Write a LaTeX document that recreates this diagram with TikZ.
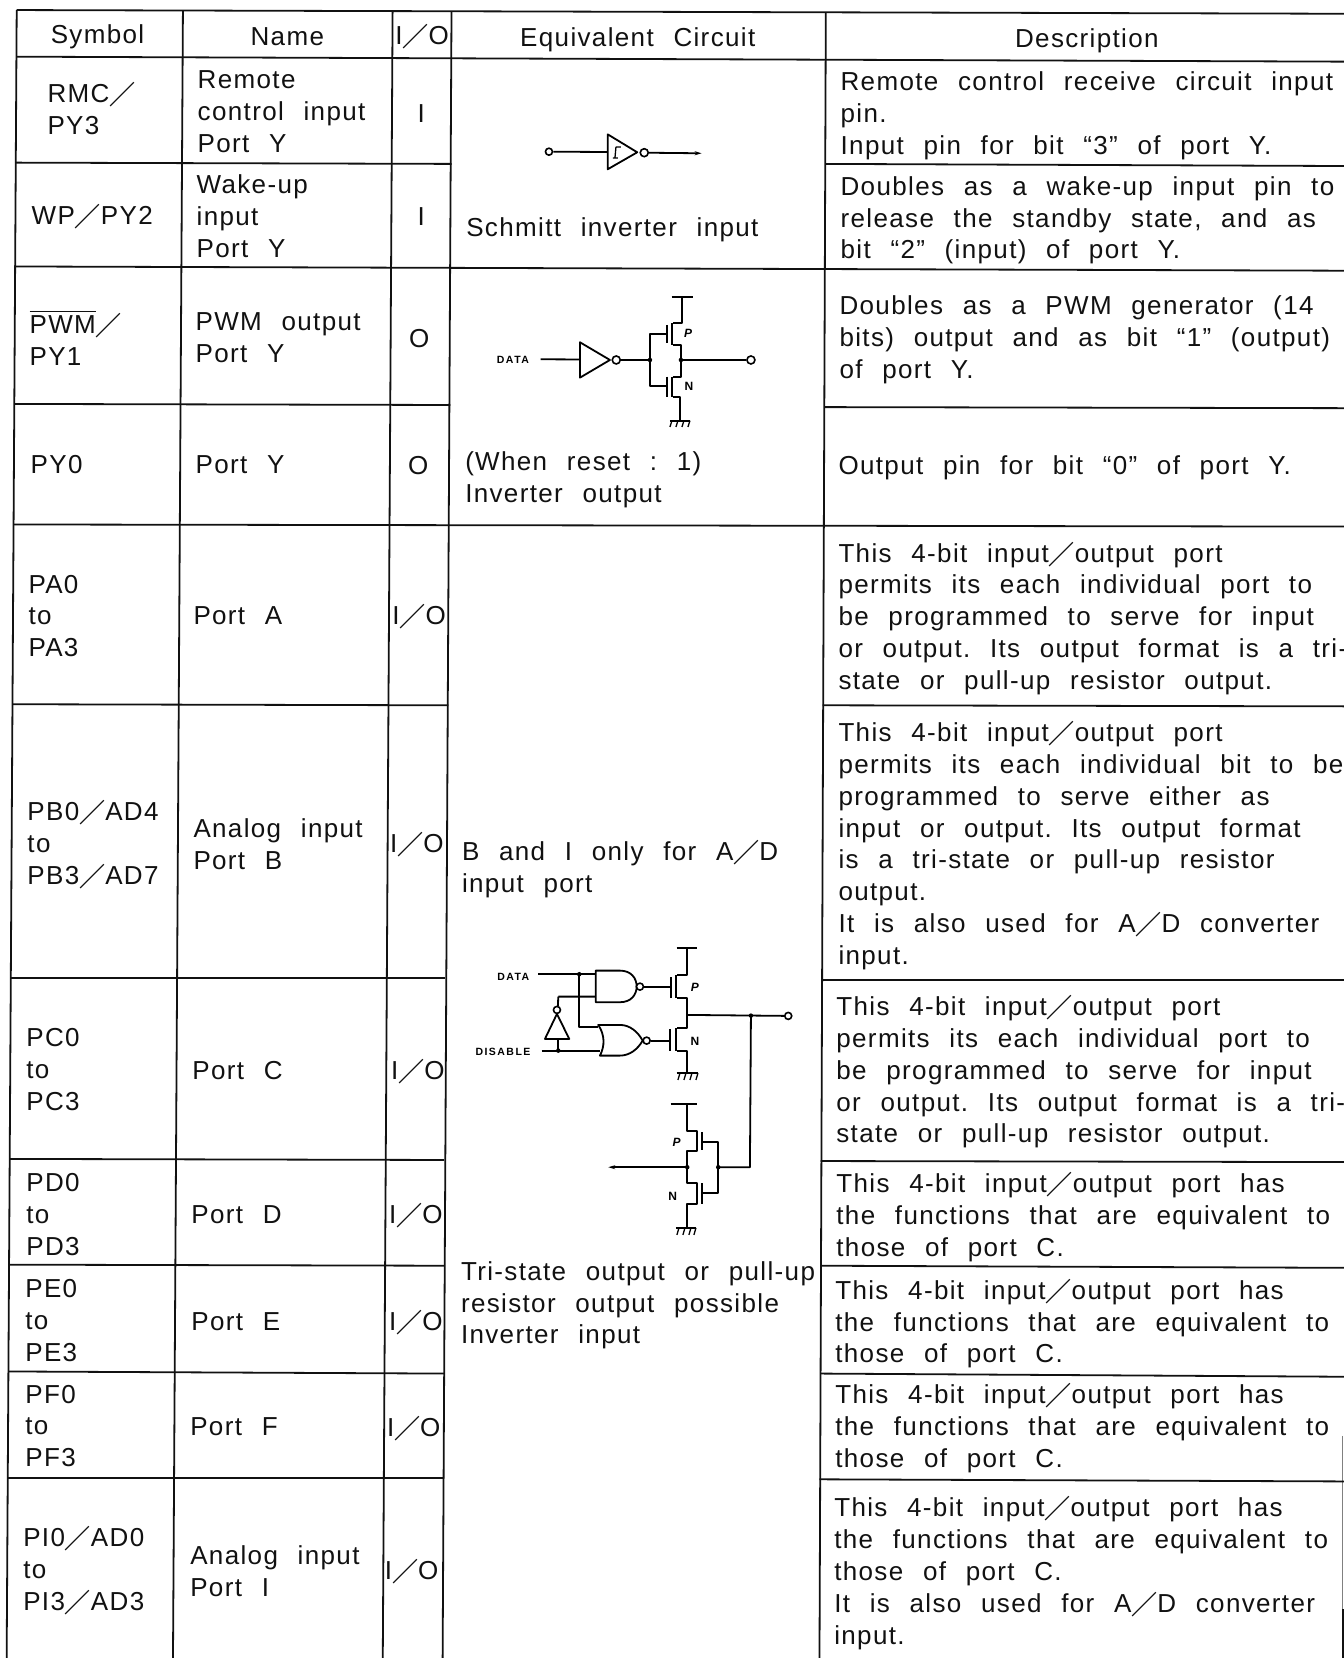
\documentclass[tikz,border=0pt]{standalone}
\usepackage{fontspec}
\setmainfont[WordSpace=2.3,LetterSpace=5.2]{Liberation Sans}
\newfontfamily\smalllab[LetterSpace=14]{Liberation Sans}
\newfontfamily\cjk{Noto Sans CJK SC}
\usetikzlibrary{arrows.meta}
\newcommand{\sla}{\smash{\raisebox{-2pt}{\scalebox{1.0}[1.0]{\cjk\bfseries ／}}}}
\definecolor{ink}{HTML}{111111}
\tikzset{
  rule/.style={draw=ink,line width=1.8pt},
  wire/.style={draw=black,line width=1.8pt,line join=round},
  thin wire/.style={draw=black,line width=1.3pt},
  cell/.style={anchor=west,inner sep=0pt,outer sep=0pt,align=left,text=ink,yshift=-1.5pt,font=\fontsize{26}{31.8}\selectfont\frenchspacing,
    execute at begin node={\rule[-2pt]{0pt}{20pt}},execute at end node={\rule[-2pt]{0pt}{20pt}}},
  tag/.style={inner sep=0pt,text=black,font=\smalllab\bfseries\fontsize{10.5}{12}\selectfont},
  pin/.style={draw=black,line width=1.6pt,fill=white,circle,inner sep=0pt,minimum size=8pt},
  dot/.style={fill=black,circle,inner sep=0pt,minimum size=4.5pt}
}
\begin{document}
\begin{tikzpicture}[x=1.0575pt,y=-1.0575pt]
\useasboundingbox (0,0) rectangle (1271,1568);
% table rules
\draw[rule] (15.8,9.5)--(1271,13);
\draw[rule] (15.8,53.6)--(1271,58.3);
\draw[rule] (15.8,9.5)--(6.3,1568);
\draw[rule] (173,10)--(163.6,1568);
\draw[rule] (371.3,10)--(362,1568);
\draw[rule] (427,11)--(418.6,1568);
\draw[rule] (781,12)--(775,1568);
\draw[draw=gray,line width=1pt] (1270,1358)--(1270,1522);
\draw[rule] (1270,1522)--(1270,1568);
\draw[rule] (15,153.8)--(427,155);
\draw[rule] (781,155)--(1271,157);
\draw[rule] (15,252)--(1271,256);
\draw[rule] (13.5,382)--(426,383);
\draw[rule] (780,385)--(1271,386);
\draw[rule] (13,496)--(1271,498);
\draw[rule] (11.5,666)--(424,667);
\draw[rule] (778,667)--(1271,668);
\draw[rule] (10,925)--(421,925);
\draw[rule] (777,927)--(1271,927);
\draw[rule] (9,1096)--(420,1097);
\draw[rule] (776,1098)--(1271,1099);
\draw[rule] (9,1196)--(420,1197);
\draw[rule] (776,1197)--(1271,1199);
\draw[rule] (8,1297)--(420,1299);
\draw[rule] (776,1299)--(1271,1302);
\draw[rule] (7.5,1398)--(419,1398);
\draw[rule] (775,1399)--(1271,1401);
% header
\node[cell] (h1) at (48,33) {Symbol};
\node[cell] (h2) at (237,34) {Name};
\node[cell] (h3) at (374,33) {I\sla O};
\node[cell] (h4) at (492,36) {Equivalent Circuit};
\node[cell] (h5) at (960,37) {Description};
% symbol
\node[cell] (s1) at (45,103) {RMC\sla\\PY3};
\node[cell] (s2) at (30,203) {WP\sla PY2};
\node[cell] (s3) at (28,319) {$\overline{\hbox{\rule{0pt}{21pt}PWM}}$\sla\\PY1};
\node[cell] (s4) at (29,439) {PY0};
\node[cell] (s5) at (27,582) {PA0\\to\\PA3};
\node[cell] (s6) at (26,797) {PB0\sla AD4\\to\\PB3\sla AD7};
\node[cell] (s7) at (25,1011) {PC0\\to\\PC3};
\node[cell] (s8) at (25,1148) {PD0\\to\\PD3};
\node[cell] (s9) at (24,1248) {PE0\\to\\PE3};
\node[cell] (s10) at (24,1348) {PF0\\to\\PF3};
\node[cell] (s11) at (22,1484) {PI0\sla AD0\\to\\PI3\sla AD3};
% name
\node[cell] (n1) at (187,105) {Remote\\control input\\Port Y};
\node[cell] (n2) at (186,204) {Wake-up\\input\\Port Y};
\node[cell] (n3) at (185,319) {PWM output\\Port Y};
\node[cell] (n4) at (185,439) {Port Y};
\node[cell] (n5) at (183,582) {Port A};
\node[cell] (n6) at (183,798) {Analog input\\Port B};
\node[cell] (n7) at (182,1012) {Port C};
\node[cell] (n8) at (181,1148) {Port D};
\node[cell] (n9) at (181,1249) {Port E};
\node[cell] (n10) at (180,1349) {Port F};
\node[cell] (n11) at (180,1485) {Analog input\\Port I};
% io
\node[cell] (i1) at (395,107) {I};
\node[cell] (i2) at (395,204) {I};
\node[cell] (i3) at (387,320) {O};
\node[cell] (i4) at (386,440) {O};
\node[cell] (i5) at (371,582) {I\sla O};
\node[cell] (i6) at (369,797) {I\sla O};
\node[cell] (i7) at (370,1012) {I\sla O};
\node[cell] (i8) at (368,1148) {I\sla O};
\node[cell] (i9) at (368,1249) {I\sla O};
\node[cell] (i10) at (366,1349) {I\sla O};
\node[cell] (i11) at (364,1485) {I\sla O};
% equivalent
\node[cell] (e1) at (441,216) {Schmitt inverter input};
\node[cell] (e2) at (440,452) {(When reset : 1)\\Inverter output};
\node[cell] (e3) at (437,821) {B and I only for A\sla D\\input port};
\node[cell] (e4) at (436,1233) {Tri-state output or pull-up\\resistor output possible\\Inverter input};
% description
\node[cell] (d1) at (795,108) {Remote control receive circuit input\\pin.\\Input pin for bit ``3'' of port Y.};
\node[cell] (d2) at (795,207) {Doubles as a wake-up input pin to\\release the standby state, and as\\bit ``2'' (input) of port Y.};
\node[cell] (d3) at (794,320) {Doubles as a PWM generator (14\\bits) output and as bit ``1'' (output)\\of port Y.};
\node[cell] (d4) at (793,441) {Output pin for bit ``0'' of port Y.};
\node[cell] (d5) at (793,584) {This 4-bit input\sla output port\\permits its each individual port to\\be programmed to serve for input\\or output. Its output format is a tri-\\state or pull-up resistor output.};
\node[cell] (d6) at (793,799) {This 4-bit input\sla output port\\permits its each individual bit to be\\programmed to serve either as\\input or output. Its output format\\is a tri-state or pull-up resistor\\output.\\It is also used for A\sla D converter\\input.};
\node[cell] (d7) at (791,1013) {This 4-bit input\sla output port\\permits its each individual port to\\be programmed to serve for input\\or output. Its output format is a tri-\\state or pull-up resistor output.};
\node[cell] (d8) at (791,1150) {This 4-bit input\sla output port has\\the functions that are equivalent to\\those of port C.};
\node[cell] (d9) at (790,1251) {This 4-bit input\sla output port has\\the functions that are equivalent to\\those of port C.};
\node[cell] (d10) at (790,1350) {This 4-bit input\sla output port has\\the functions that are equivalent to\\those of port C.};
\node[cell] (d11) at (789,1487) {This 4-bit input\sla output port has\\the functions that are equivalent to\\those of port C.\\It is also used for A\sla D converter\\input.};
% circuits, in full-size pixel coordinates
\begin{scope}[x=1pt,y=-1pt]
% Schmitt inverter
\node[pin,minimum size=7pt] (a1) at (549,151.7) {};
\node[pin,minimum size=8pt] (a2) at (644.3,152.7) {};
\coordinate (a3) at (701.7,153.3);
\draw[wire] (607.7,134.3)--(637.3,152.3)--(607.7,169.3)--cycle;
\draw[wire] (a1)--(607.7,152);
\draw[wire,-{Stealth[length=7pt,width=4pt]}] (a2)--(a3);
\draw[thin wire] (613,158)--(618,158) (615,158)--(616,147) (616,147)--(621,147);
% PWM inverter output
\node[tag] (b0) at (513,360) {DATA};
\coordinate (b1) at (540.7,359.3);
\node[pin] (b2) at (616.3,360) {};
\node[pin] (b3) at (751,360) {};
\draw[wire] (b1)--(580,359.5);
\draw[wire] (580,342.3)--(610,360)--(580,377.7)--cycle;
\draw[wire] (b2)--(650,360);
\draw[wire] (666.7,334.3)--(650,334.3)--(650,386)--(666.7,386);
\draw[wire] (666.7,325)--(666.7,343.3) (666.7,376.7)--(666.7,396.7);
\draw[wire] (671.7,323.3)--(671.7,345) (671.7,376.7)--(671.7,396.7);
\draw[wire] (671.7,296.7)--(693.3,296.7) (681.7,296.7)--(681.7,323.3)--(673,323.3);
\draw[wire] (673,345)--(681,345)--(681,376.7)--(673,376.7);
\draw[wire] (673,396.7)--(680,396.7)--(680,420);
\draw[wire] (670,420.7)--(690,420.7);
\draw[thin wire] (672,420.7)--(670,427) (678,420.7)--(676,427) (684,420.7)--(682,427) (690,420.7)--(688,427);
\draw[wire] (681,360)--(b3);
\node[dot] (b4) at (650,360) {};
\node[dot] (b5) at (681,360) {};
\node[tag,font=\bfseries\itshape\fontsize{12}{12}\selectfont] (b6) at (688.3,333) {P};
\node[tag,font=\bfseries\fontsize{12}{12}\selectfont] (b7) at (689,386.7) {N};
% tri-state output
\node[tag] (c0) at (513.3,976.7) {DATA};
\node[tag] (c00) at (503,1051.7) {DISABLE};
\coordinate (c1) at (538.3,974.3);
\coordinate (c2) at (541.7,1050.7);
\draw[wire] (c1)--(595.7,974.3);
\draw[wire] (579.3,974.3)--(579.3,1027.3)--(598.3,1027.3);
\draw[wire] (c2)--(600,1050.7);
\draw[wire] (595.7,970.7)--(620,970.7) .. controls (631,970.7) and (636.7,978) .. (636.7,986.7) .. controls (636.7,995) and (631,1002.3) .. (620,1002.3)--(595.7,1002.3)--cycle;
\node[pin,minimum size=7pt] (c3) at (640,986.7) {};
\draw[wire] (c3)--(670.7,986.7);
\draw[wire] (598.3,1025)--(620,1025) .. controls (630,1025) and (638,1032) .. (642.7,1040.7) .. controls (638,1049) and (630,1055.7) .. (620,1055.7)--(600,1055.7) .. controls (605,1046) and (605,1035) .. (598.3,1025)--cycle;
\node[pin,minimum size=7pt] (c4) at (646.7,1040.7) {};
\draw[wire] (c4)--(670,1040.7);
\draw[wire] (558.3,996.7)--(595.7,996.7) (558.3,996.7)--(558,1006);
\node[pin,minimum size=7pt] (c5) at (557,1010) {};
\draw[wire] (557,1014)--(545,1039)--(569.3,1039)--cycle;
\draw[wire] (558.3,1039)--(558.3,1051);
\draw[wire] (670.7,977.3)--(670.7,998.3) (670,1029.3)--(670,1050.7);
\draw[wire] (676,975)--(676,998.3) (676,1028.3)--(676,1050.7);
\draw[wire] (676.7,948.3)--(697.3,948.3) (687.3,948.3)--(687.3,975)--(676.7,975);
\draw[wire] (676.7,998.3)--(687.3,998.3)--(687.3,1028.3)--(676.7,1028.3);
\draw[wire] (676.7,1050.7)--(687.3,1050.7)--(687.3,1073.3);
\draw[wire] (676.7,1073.3)--(698.3,1073.3);
\draw[thin wire] (680,1073.3)--(678,1080) (686,1073.3)--(684,1080) (692,1073.3)--(690,1080) (698,1073.3)--(696,1080);
\node[pin,minimum size=7pt] (c6) at (788.3,1016) {};
\draw[wire] (687.3,1015)--(c6);
\draw[wire] (751,1015.7)--(750,1167.3)--(718.3,1167.3);
\node[tag,font=\bfseries\itshape\fontsize{12}{12}\selectfont] (c7) at (695,987) {P};
\node[tag,font=\bfseries\fontsize{12}{12}\selectfont] (c8) at (695,1041) {N};
\node[dot] (c9) at (579.3,974.3) {};
\node[dot] (c10) at (751,1015.7) {};
\node[dot] (c11) at (558.3,1050.7) {};
% input branch
\coordinate (f0) at (608.3,1167.3);
\draw[wire] (670.7,1104)--(697.3,1104);
\draw[wire] (687.3,1104)--(687.3,1130.7)--(697.3,1130.7)--(697.3,1151)--(687.3,1151)--(687.3,1183.3)--(696.7,1183.3)--(696.7,1204.3)--(686.7,1204.3)--(686.7,1226.7);
\draw[wire] (676,1228)--(696,1228);
\draw[thin wire] (679,1228)--(677,1235) (685,1228)--(683,1235) (691,1228)--(689,1235) (696,1228)--(694,1235);
\draw[wire] (702.3,1132.3)--(702.3,1150) (702.3,1183.3)--(702.3,1204.3);
\draw[wire] (702.3,1141.7)--(718.3,1141.7)--(718.3,1193.3)--(702.3,1193.3);
\draw[wire,-{Stealth[length=7pt,width=4pt]}] (687.3,1167.3)--(f0);
\node[dot] (f1) at (687.3,1167.3) {};
\node[dot] (f2) at (718.3,1167.3) {};
\node[tag,font=\bfseries\itshape\fontsize{12}{12}\selectfont] (f3) at (676.7,1142) {P};
\node[tag,font=\bfseries\fontsize{12}{12}\selectfont] (f4) at (672.7,1196.7) {N};
\end{scope}
\end{tikzpicture}
\end{document}
